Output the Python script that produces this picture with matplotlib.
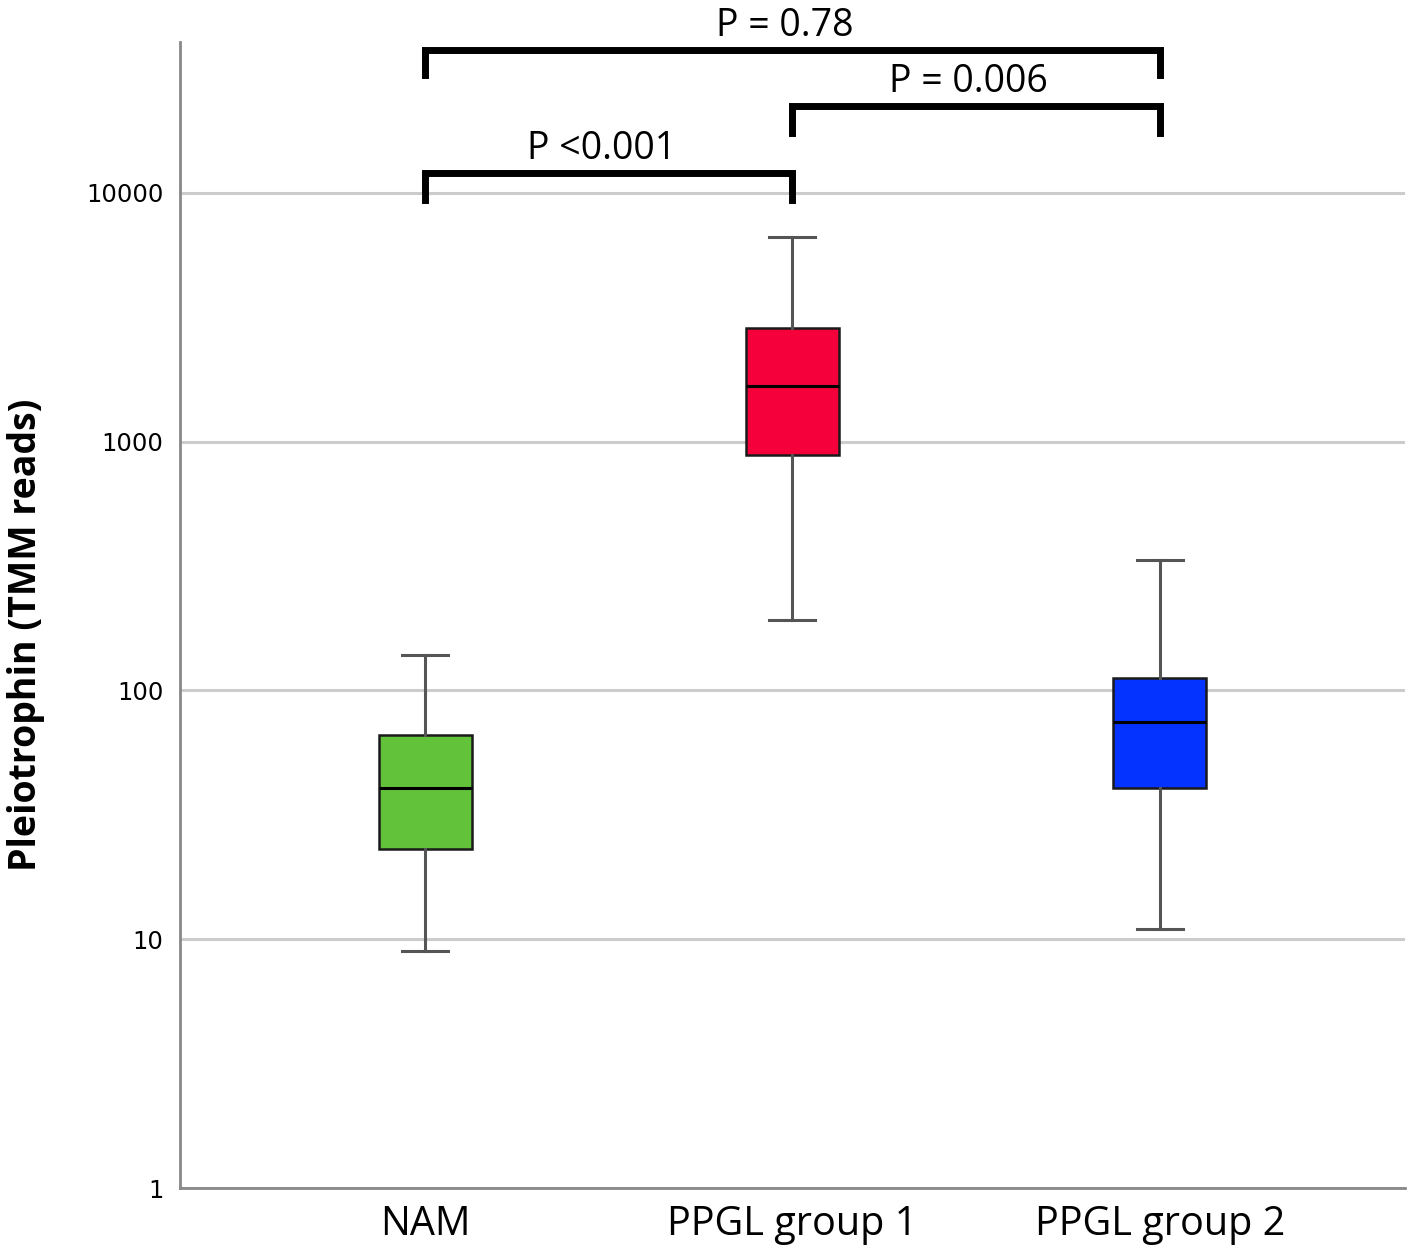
import matplotlib
matplotlib.use("Agg")
import matplotlib.pyplot as plt

groups = ["NAM", "PPGL group 1", "PPGL group 2"]
whisker_low = [9.0, 192, 11.0]
q1 = [23.0, 885, 40.6]
median = [40.6, 1680, 74.8]
q3 = [66.0, 2870, 112]
whisker_high = [139, 6670, 335]
box_colors = ["#62c23a", "#f5003a", "#0433ff"]

# significance brackets: (left group, right group, lower end, top, label)
brackets = [
    (0, 1, 9370, 12040, "P <0.001"),
    (1, 2, 17400, 22400, "P = 0.006"),
    (0, 2, 29800, 37600, "P = 0.78"),
]

fig = plt.figure(figsize=(14.17, 12.6), dpi=100)
ax = fig.add_axes([0.127, 0.0571, 0.8645, 0.9096])

stats = []
for i, g in enumerate(groups):
    stats.append(dict(label=g, whislo=whisker_low[i], q1=q1[i], med=median[i],
                      q3=q3[i], whishi=whisker_high[i], fliers=[]))

pos = list(range(1, len(groups) + 1))
bp = ax.bxp(stats, positions=pos, widths=0.253, patch_artist=True, showfliers=False,
            boxprops=dict(edgecolor="#1a1a1a", linewidth=1.8),
            medianprops=dict(color="black", linewidth=2.2),
            whiskerprops=dict(color="#555555", linewidth=2.2),
            capprops=dict(color="#555555", linewidth=2.2),
            capwidths=0.125)
for patch, c in zip(bp["boxes"], box_colors):
    patch.set_facecolor(c)

ax.set_yscale("log")
ax.set_ylim(1, 40450)
ax.set_xlim(0.333, 3.667)
ax.set_yticks([1, 10, 100, 1000, 10000])
ax.set_yticklabels(["1", "10", "100", "1000", "10000"])
ax.minorticks_off()
ax.yaxis.grid(True, color="#cccccc", linewidth=2.2)
ax.set_axisbelow(True)
ax.tick_params(axis="y", length=0, labelsize=17.5, pad=12)
ax.tick_params(axis="x", length=0, labelsize=28.5, pad=12)
ax.set_xticks(pos)
ax.set_xticklabels(groups, fontfamily="Open Sans", fontweight="medium")
for s in ["top", "right"]:
    ax.spines[s].set_visible(False)
for s in ["left", "bottom"]:
    ax.spines[s].set_color("#888888")
    ax.spines[s].set_linewidth(2)

ax.set_ylabel("Pleiotrophin (TMM reads)", fontsize=27, fontweight="bold",
              fontfamily="Open Sans")
ax.yaxis.set_label_coords(-0.110, 0.483)

for a, b, lo, hi, lab in brackets:
    xa, xb = pos[a], pos[b]
    ax.plot([xa, xa, xb, xb], [lo, hi, hi, lo], color="black", linewidth=5,
            solid_joinstyle="miter", clip_on=False)
    ax.text((xa + xb) / 2 - 0.02, hi * 1.05, lab, ha="center", va="bottom",
            fontsize=27, fontfamily="Open Sans", clip_on=False)

fig.savefig("out.png", dpi=100)
